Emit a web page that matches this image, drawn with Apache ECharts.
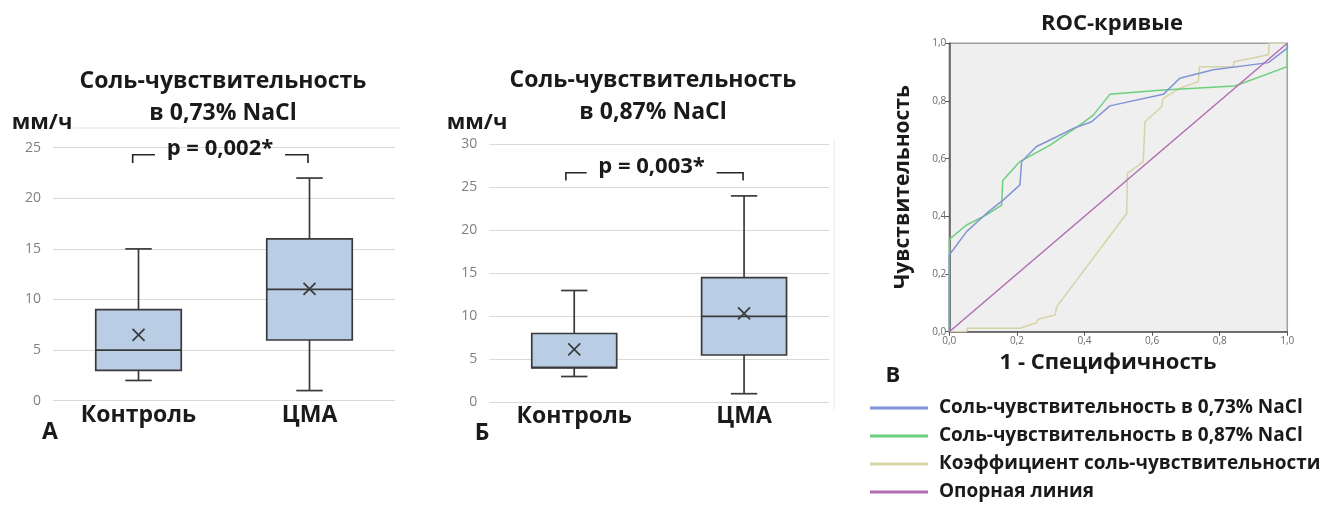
<!DOCTYPE html>
<html><head><meta charset="utf-8">
<script src="https://cdn.jsdelivr.net/npm/echarts@6/dist/echarts.min.js"></script>
<style>html,body{margin:0;padding:0;background:#fff}#c{width:1322px;height:508px}</style>
</head><body><div id="c"></div>
<script>
// ---------- data ----------
const categories = ['Контроль', 'ЦМА'];
// [min, Q1, median, Q3, max]
const boxA_control = [2, 3, 5, 9, 15];
const boxA_cma = [1, 6, 11, 16, 22];
const meanA = [6.5, 11.05];
const boxB_control = [3, 4, 4.05, 8, 13];
const boxB_cma = [1, 5.5, 10, 14.5, 24];
const meanB = [6.15, 10.35];
const yTicksA = [0, 5, 10, 15, 20, 25];
const yTicksB = [0, 5, 10, 15, 20, 25, 30];
// significance bracket: [top value, leg bottom value]
const bracketA = [24.3, 23.5];
const bracketB = [26.7, 25.8];
const pTextA = 'p = 0,002*';
const pTextB = 'p = 0,003*';
// ROC curves: [1 - specificity, sensitivity]
const roc073 = [[0,0],[0,0.266],[0.051,0.347],[0.11,0.41],[0.16,0.457],[0.209,0.509],[0.214,0.59],[0.258,0.642],[0.318,0.676],[0.367,0.705],[0.421,0.728],[0.475,0.783],[0.633,0.823],[0.682,0.879],[0.781,0.908],[0.944,0.933],[1,0.983],[1,1]];
const roc087 = [[0,0],[0,0.32],[0.051,0.37],[0.11,0.405],[0.155,0.439],[0.158,0.524],[0.209,0.59],[0.298,0.647],[0.387,0.717],[0.426,0.751],[0.475,0.823],[0.633,0.838],[0.845,0.852],[1,0.919],[1,1]];
const rocCoef = [[0,0],[0.051,0],[0.053,0.012],[0.209,0.012],[0.258,0.031],[0.262,0.043],[0.313,0.058],[0.318,0.087],[0.525,0.41],[0.527,0.549],[0.574,0.59],[0.579,0.728],[0.628,0.78],[0.633,0.809],[0.682,0.844],[0.737,0.867],[0.74,0.919],[0.84,0.919],[0.843,0.936],[0.944,0.96],[0.947,1],[1,1]];
const rocRef = [[0,0],[1,1]];
const rocTicks = [0, 0.2, 0.4, 0.6, 0.8, 1.0];
const legendNames = ['Соль-чувствительность в 0,73% NaCl','Соль-чувствительность в 0,87% NaCl','Коэффициент соль-чувствительности','Опорная линия'];

// ---------- rendering ----------
const FONT = 'Open Sans';
const chart = echarts.init(document.getElementById('c'));

function boxData(ctrl, cma, means) {
  return [[0].concat(ctrl, [means[0]]), [1].concat(cma, [means[1]])];
}
const stroke = '#3a3a3a';
function renderBox(params, api) {
  const i = api.value(0);
  const band = api.size([1, 0])[0];
  const bw = band * 0.5, cw = bw * 0.31;
  const p = k => api.coord([i, api.value(k)]);
  const pMin = p(1), pQ1 = p(2), pMed = p(3), pQ3 = p(4), pMax = p(5), pMean = p(6);
  const cx = pMin[0];
  const st = {stroke: stroke, lineWidth: 1.7, fill: null};
  const m = 6;
  return {type: 'group', children: [
    {type: 'line', shape: {x1: cx, y1: pMin[1], x2: cx, y2: pQ1[1]}, style: st},
    {type: 'line', shape: {x1: cx, y1: pQ3[1], x2: cx, y2: pMax[1]}, style: st},
    {type: 'line', shape: {x1: cx - cw/2, y1: pMin[1], x2: cx + cw/2, y2: pMin[1]}, style: st},
    {type: 'line', shape: {x1: cx - cw/2, y1: pMax[1], x2: cx + cw/2, y2: pMax[1]}, style: st},
    {type: 'rect', shape: {x: cx - bw/2, y: pQ3[1], width: bw, height: pQ1[1] - pQ3[1]}, style: {fill: '#b9cde5', stroke: stroke, lineWidth: 1.7}},
    {type: 'line', shape: {x1: cx - bw/2, y1: pMed[1], x2: cx + bw/2, y2: pMed[1]}, style: st},
    {type: 'line', shape: {x1: pMean[0] - m, y1: pMean[1] - m, x2: pMean[0] + m, y2: pMean[1] + m}, style: st},
    {type: 'line', shape: {x1: pMean[0] - m, y1: pMean[1] + m, x2: pMean[0] + m, y2: pMean[1] - m}, style: st}
  ]};
}
function makeBracket(text, offs) {
  return function (params, api) {
    const band = api.size([1, 0])[0];
    const top = api.coord([0, api.value(0)]);
    const bot = api.coord([0, api.value(1)]);
    const c1 = api.coord([1, api.value(0)]);
    const x0 = top[0] + offs[0] * band, x1 = top[0] + offs[1] * band;
    const x2 = c1[0] + offs[2] * band, x3 = c1[0] + offs[3] * band;
    const st = {stroke: '#262626', lineWidth: 1.6, fill: null};
    return {type: 'group', children: [
      {type: 'polyline', shape: {points: [[x0, bot[1]], [x0, top[1]], [x1, top[1]]]}, style: st},
      {type: 'polyline', shape: {points: [[x2, top[1]], [x3, top[1]], [x3, bot[1]]]}, style: st},
      {type: 'text', style: {text: text, x: (x1 + x2) / 2, y: top[1] - 6, align: 'center', verticalAlign: 'middle', fontFamily: FONT, fontWeight: 'bold', fontSize: 22, fill: '#1a1a1a'}}
    ]};
  };
}
const commaFmt = v => v.toFixed(1).replace('.', ',');

const boxYAxis = (max) => ({
  type: 'value', min: 0, max: max, interval: 5,
  axisLine: {show: false}, axisTick: {show: false},
  axisLabel: {color: '#7f7f7f', fontSize: 14, fontFamily: FONT, margin: 12},
  splitLine: {lineStyle: {color: '#d9d9d9', width: 1}}
});
const boxXAxis = (gi) => ({
  type: 'category', data: categories, gridIndex: gi,
  axisLine: {show: false}, axisTick: {show: false},
  axisLabel: {color: '#1a1a1a', fontSize: 23, fontWeight: 'bold', fontFamily: FONT, margin: 3}
});
const rocAxis = (gi, isX) => ({
  type: 'value', gridIndex: gi, min: 0, max: 1, interval: 0.2,
  axisLine: {show: true, onZero: false, lineStyle: {color: '#555', width: 1.5}},
  axisTick: {show: true, length: 4, lineStyle: {color: '#555'}},
  axisLabel: {color: '#6a6a6a', fontSize: 10, fontFamily: FONT, margin: isX ? 4 : 3, formatter: commaFmt},
  splitLine: {show: false}
});

const gText = (text, x, y, size, extra) => Object.assign({
  type: 'text', x: x, y: y,
  style: {text: text, fontFamily: FONT, fontWeight: 'bold', fontSize: size, fill: '#1a1a1a', align: 'center', verticalAlign: 'middle'}
}, extra || {});

chart.setOption({
  animation: false,
  grid: [
    {left: 53, right: 927, top: 147.7, bottom: 107.3},
    {left: 489.3, right: 493, top: 144.3, bottom: 105.7},
    {left: 949.3, right: 34.7, top: 43.3, bottom: 176.3, show: true, backgroundColor: '#efefef', borderColor: '#a0a0a0', borderWidth: 1.5}
  ],
  xAxis: [boxXAxis(0), boxXAxis(1), rocAxis(2, true)],
  yAxis: [Object.assign(boxYAxis(25), {gridIndex: 0}), Object.assign(boxYAxis(30), {gridIndex: 1}), rocAxis(2, false)],
  legend: {
    orient: 'vertical', left: 870, top: 398, padding: 0, itemWidth: 58, itemHeight: 3, itemGap: 8, icon: 'rect',
    data: legendNames,
    textStyle: {fontFamily: FONT, fontWeight: 'bold', fontSize: 19, color: '#1a1a1a', lineHeight: 20, padding: [0, 0, 0, 6]}
  },
  series: [
    {type: 'custom', xAxisIndex: 0, yAxisIndex: 0, renderItem: renderBox, data: boxData(boxA_control, boxA_cma, meanA), silent: true},
    {type: 'custom', xAxisIndex: 1, yAxisIndex: 1, renderItem: renderBox, data: boxData(boxB_control, boxB_cma, meanB), silent: true},
    {type: 'custom', xAxisIndex: 0, yAxisIndex: 0, renderItem: makeBracket(pTextA, [-0.034, 0.096, -0.143, -0.009]), data: [bracketA], silent: true},
    {type: 'custom', xAxisIndex: 1, yAxisIndex: 1, renderItem: makeBracket(pTextB, [-0.049, 0.073, -0.162, -0.006]), data: [bracketB], silent: true},
    {name: legendNames[2], type: 'line', xAxisIndex: 2, yAxisIndex: 2, data: rocCoef, showSymbol: false, color: '#d6d3a6', lineStyle: {width: 1.5}},
    {name: legendNames[1], type: 'line', xAxisIndex: 2, yAxisIndex: 2, data: roc087, showSymbol: false, color: '#6ccf7c', lineStyle: {width: 1.5}},
    {name: legendNames[0], type: 'line', xAxisIndex: 2, yAxisIndex: 2, data: roc073, showSymbol: false, color: '#8394d6', lineStyle: {width: 1.5}},
    {name: legendNames[3], type: 'line', xAxisIndex: 2, yAxisIndex: 2, data: rocRef, showSymbol: false, color: '#b26db2', lineStyle: {width: 1.5}}
  ],
  graphic: [
    {type: 'line', shape: {x1: 73, y1: 128, x2: 400, y2: 128}, style: {stroke: '#e3e3e3', lineWidth: 1}},
    {type: 'line', shape: {x1: 834, y1: 140, x2: 834, y2: 410}, style: {stroke: '#e8e8e8', lineWidth: 1}},
    gText('Соль-чувствительность', 223, 81, 23),
    gText('в 0,73% NaCl', 223, 113, 23),
    gText('мм/ч', 42, 123, 22),
    gText('А', 50, 432, 23),
    gText('Соль-чувствительность', 653, 80, 23),
    gText('в 0,87% NaCl', 653, 112, 23),
    gText('мм/ч', 477, 123, 22),
    gText('Б', 482, 433, 23),
    gText('ROC-кривые', 1112, 24, 22),
    gText('1 - Специфичность', 1108, 363, 22),
    gText('Чувствительность', 903, 187, 21, {rotation: Math.PI / 2}),
    gText('В', 893, 376, 22)
  ]
});
</script></body></html>
